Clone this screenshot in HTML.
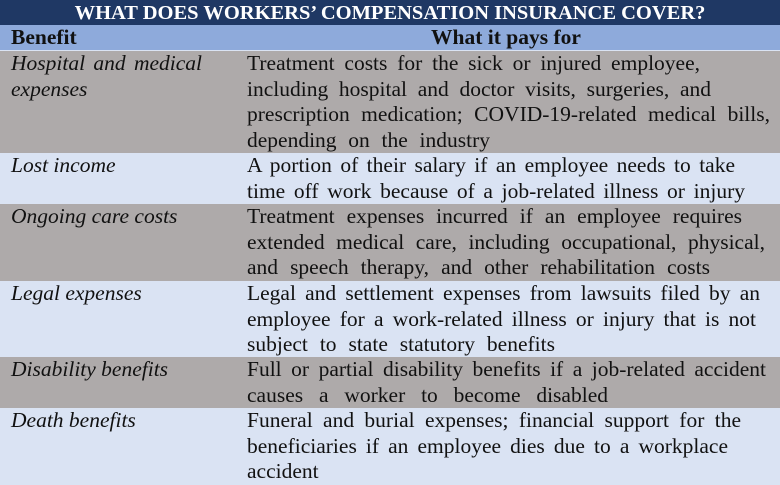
<!DOCTYPE html>
<html><head><style>
body{margin:0;width:780px;height:483px;overflow:hidden;background:#dae3f3;font-family:"Liberation Serif",serif;color:#111;}
.t{position:absolute;left:0;top:0;width:780px;height:25px;background:#1f3864;color:#fff;font-weight:bold;font-size:20.5px;text-align:center;line-height:26px;}
.h{position:absolute;left:0;top:25px;width:780px;height:25px;background:#8eaadb;font-weight:bold;font-size:21.5px;line-height:25px;}
.r{position:absolute;left:0;width:780px;font-size:21.5px;line-height:25.5px;white-space:nowrap;}
.g{background:#aeaaaa}.b{background:#dae3f3}
.l{position:absolute;left:11px;top:0;font-style:italic}
.v{position:absolute;left:247px;top:0}
.v span,.l span{display:block;text-align:justify;text-align-last:justify;white-space:normal}
</style></head><body>
<div class="t">WHAT DOES WORKERS’ COMPENSATION INSURANCE COVER?</div>
<div class="h"><span style="position:absolute;left:11px">Benefit</span><span style="position:absolute;left:431px">What it pays for</span></div>
<div class="r g" style="top:51px;height:102px"><div class="l"><span style="width:191px">Hospital and medical</span>expenses</div><div class="v"><span style="width:453px">Treatment costs for the sick or injured employee,</span><span style="width:464px">including hospital and doctor visits, surgeries, and</span><span style="width:523px">prescription medication; COVID-19-related medical bills,</span><span style="width:243px">depending on the industry</span></div></div>
<div class="r b" style="top:153px;height:51px"><div class="l">Lost income</div><div class="v"><span style="width:488px">A portion of their salary if an employee needs to take</span><span style="width:498px">time off work because of a job-related illness or injury</span></div></div>
<div class="r g" style="top:204px;height:77px"><div class="l">Ongoing care costs</div><div class="v"><span style="width:495px">Treatment expenses incurred if an employee requires</span><span style="width:518px">extended medical care, including occupational, physical,</span><span style="width:463px">and speech therapy, and other rehabilitation costs</span></div></div>
<div class="r b" style="top:281px;height:76px"><div class="l">Legal expenses</div><div class="v"><span style="width:513px">Legal and settlement expenses from lawsuits filed by an</span><span style="width:509px">employee for a work-related illness or injury that is not</span><span style="width:308px">subject to state statutory benefits</span></div></div>
<div class="r g" style="top:357px;height:51px"><div class="l">Disability benefits</div><div class="v"><span style="width:519px">Full or partial disability benefits if a job-related accident</span><span style="width:361px">causes a worker to become disabled</span></div></div>
<div class="r b" style="top:408px;height:75px"><div class="l">Death benefits</div><div class="v"><span style="width:494px">Funeral and burial expenses; financial support for the</span><span style="width:481px">beneficiaries if an employee dies due to a workplace</span>accident</div></div>
</body></html>
